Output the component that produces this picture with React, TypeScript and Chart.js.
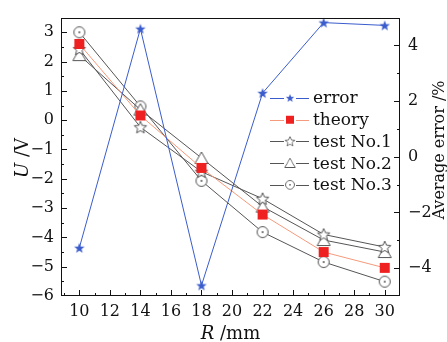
import React, { useEffect, useRef } from 'react';
import { Chart, registerables } from 'chart.js';

Chart.register(...registerables);

// ---- data ----
const R = [10, 14, 18, 22, 26, 30];
const errorPct = [-3.27, 4.6, -4.62, 2.29, 4.82, 4.72];
const theory = [2.6, 0.16, -1.63, -3.22, -4.5, -5.04];
const test1 = [2.43, -0.24, -1.76, -2.68, -3.9, -4.33];
const test2 = [2.22, 0.36, -1.29, -2.95, -4.09, -4.5];
const test3 = [3.0, 0.47, -2.07, -3.82, -4.84, -5.51];
const seriesNames = ['error', 'theory', 'test No.1', 'test No.2', 'test No.3'];
const xTicks = [10, 12, 14, 16, 18, 20, 22, 24, 26, 28, 30];
const yTicks = [-6, -5, -4, -3, -2, -1, 0, 1, 2, 3];
const y2Ticks = [-4, -2, 0, 2, 4];

const FONT = '"DejaVu Serif", "Liberation Serif", serif';
const BLUE = '#3a5ccc';
const GRAY = '#555555';
const RED = '#ee2020';
const SALMON = '#f59a7c';

function makeCanvas(size: number, draw: (ctx: CanvasRenderingContext2D, c: number) => void) {
  const c = document.createElement('canvas');
  c.width = size;
  c.height = size;
  const ctx = c.getContext('2d')!;
  draw(ctx, size / 2);
  return c;
}

function starPath(ctx: CanvasRenderingContext2D, cx: number, cy: number, ro: number, ri: number) {
  ctx.beginPath();
  for (let i = 0; i < 10; i++) {
    const r = i % 2 === 0 ? ro : ri;
    const a = -Math.PI / 2 + (i * Math.PI) / 5;
    const x = cx + r * Math.cos(a);
    const y = cy + r * Math.sin(a);
    if (i === 0) ctx.moveTo(x, y);
    else ctx.lineTo(x, y);
  }
  ctx.closePath();
}

function buildMarkers() {
  const blueStar = makeCanvas(14, (ctx, c) => {
    starPath(ctx, c, c + 0.5, 5.5, 2.3);
    ctx.fillStyle = BLUE;
    ctx.fill();
  });
  const grayStar = makeCanvas(16, (ctx, c) => {
    starPath(ctx, c, c + 0.5, 6.5, 2.9);
    ctx.fillStyle = '#fff';
    ctx.fill();
    ctx.strokeStyle = GRAY;
    ctx.lineWidth = 1;
    ctx.stroke();
  });
  const square = makeCanvas(12, (ctx) => {
    ctx.fillStyle = RED;
    ctx.fillRect(1, 1, 10, 10);
  });
  const triangle = makeCanvas(16, (ctx, c) => {
    ctx.beginPath();
    ctx.moveTo(c, 2);
    ctx.lineTo(c + 6.5, 13.5);
    ctx.lineTo(c - 6.5, 13.5);
    ctx.closePath();
    ctx.fillStyle = '#fff';
    ctx.fill();
    ctx.strokeStyle = GRAY;
    ctx.lineWidth = 1;
    ctx.stroke();
  });
  const circle = makeCanvas(16, (ctx, c) => {
    ctx.beginPath();
    ctx.arc(c, c, 5.5, 0, Math.PI * 2);
    ctx.fillStyle = '#fff';
    ctx.fill();
    ctx.strokeStyle = GRAY;
    ctx.lineWidth = 1;
    ctx.stroke();
    ctx.beginPath();
    ctx.arc(c, c, 1, 0, Math.PI * 2);
    ctx.fillStyle = GRAY;
    ctx.fill();
  });
  return { blueStar, grayStar, square, triangle, circle };
}

const minus = (v: number) => String(v).replace('-', '\u2212');

export default function App() {
  const ref = useRef<HTMLCanvasElement | null>(null);

  useEffect(() => {
    const m = buildMarkers();
    const markers = [m.blueStar, m.square, m.grayStar, m.triangle, m.circle];
    const lineColors = [BLUE, SALMON, GRAY, GRAY, GRAY];
    const pts = (ys: number[]) => R.map((x, i) => ({ x, y: ys[i] }));
    const mk = (label: string, ys: number[], idx: number, axis: string) => ({
      label,
      data: pts(ys),
      yAxisID: axis,
      borderColor: lineColors[idx],
      borderWidth: 1,
      pointStyle: markers[idx] as any,
      pointRadius: 6,
      tension: 0,
      fill: false,
    });

    const decor = {
      id: 'decor',
      afterDatasetsDraw(chart: any) {
        const ctx = chart.ctx as CanvasRenderingContext2D;
        const a = chart.chartArea;
        const sx = chart.scales.x;
        const sy = chart.scales.y;
        const sy2 = chart.scales.y2;
        ctx.save();
        ctx.strokeStyle = '#111';
        ctx.lineWidth = 1;
        ctx.strokeRect(Math.round(a.left) + 0.5, Math.round(a.top) + 0.5, Math.round(a.right - a.left) - 1, Math.round(a.bottom - a.top) - 1);
        ctx.beginPath();
        // x ticks
        for (let v = 9; v <= 31; v++) {
          const px = Math.round(sx.getPixelForValue(v)) + 0.5;
          if (px <= a.left + 1 || px >= a.right - 1) continue;
          const len = v % 2 === 0 ? 6 : 3;
          ctx.moveTo(px, a.bottom);
          ctx.lineTo(px, a.bottom - len);
        }
        // left y ticks
        for (let v = -6; v <= 3.5; v += 0.5) {
          const py = Math.round(sy.getPixelForValue(v)) + 0.5;
          if (py <= a.top + 1 || py >= a.bottom - 1) continue;
          const len = Number.isInteger(v) ? 6 : 3;
          ctx.moveTo(a.left, py);
          ctx.lineTo(a.left + len, py);
        }
        // right y ticks
        for (let v = -5; v <= 5; v += 1) {
          const py = Math.round(sy2.getPixelForValue(v)) + 0.5;
          if (py <= a.top + 1 || py >= a.bottom - 1) continue;
          const len = v % 2 === 0 ? 6 : 3;
          ctx.moveTo(a.right, py);
          ctx.lineTo(a.right - len, py);
        }
        ctx.stroke();
        ctx.restore();
      },
      afterDraw(chart: any) {
        const ctx = chart.ctx as CanvasRenderingContext2D;
        const a = chart.chartArea;
        ctx.save();
        ctx.fillStyle = '#111';
        // legend
        const lx0 = 270, lx1 = 309, mx = 290, tx = 313;
        ctx.font = '17px ' + FONT;
        ctx.textBaseline = 'middle';
        ctx.textAlign = 'left';
        seriesNames.forEach((name, i) => {
          const y = 98 + i * 21.7;
          ctx.strokeStyle = lineColors[i];
          ctx.lineWidth = 1;
          ctx.beginPath();
          ctx.moveTo(lx0, Math.round(y) + 0.5);
          ctx.lineTo(mx - 6, Math.round(y) + 0.5);
          ctx.moveTo(mx + 6, Math.round(y) + 0.5);
          ctx.lineTo(lx1, Math.round(y) + 0.5);
          ctx.stroke();
          const img = markers[i];
          const s = i === 0 || i === 1 ? 0.8 : 0.8;
          const w = img.width * s, h = img.height * s;
          ctx.drawImage(img, mx - w / 2, y - h / 2, w, h);
          ctx.fillStyle = '#111';
          ctx.fillText(name, tx, y + 1);
        });
        // x title
        ctx.font = '18px ' + FONT;
        ctx.textBaseline = 'alphabetic';
        const cx = (a.left + a.right) / 2;
        const italic = 'italic 18px ' + FONT;
        const normal = '18px ' + FONT;
        ctx.font = italic;
        const wR = ctx.measureText('R').width;
        ctx.font = normal;
        const wRest = ctx.measureText(' /mm').width;
        let x0 = cx - (wR + wRest) / 2;
        ctx.font = italic;
        ctx.fillText('R', x0, 339);
        ctx.font = normal;
        ctx.fillText(' /mm', x0 + wR, 339);
        // left title
        ctx.save();
        ctx.translate(28, 158);
        ctx.rotate(-Math.PI / 2);
        ctx.font = italic;
        const wU = ctx.measureText('U').width;
        ctx.font = normal;
        const wV = ctx.measureText(' /V').width;
        x0 = -(wU + wV) / 2;
        ctx.font = italic;
        ctx.fillText('U', x0, 0);
        ctx.font = normal;
        ctx.fillText(' /V', x0 + wU, 0);
        ctx.restore();
        // right title
        ctx.save();
        ctx.translate(444, 150);
        ctx.rotate(-Math.PI / 2);
        ctx.font = '16px ' + FONT;
        ctx.textAlign = 'center';
        ctx.fillText('Average error /%', 0, 0);
        ctx.restore();
        ctx.restore();
      },
    };

    const tickFont = { family: FONT, size: 16 };
    const chart = new Chart(ref.current!, {
      type: 'line',
      data: {
        datasets: [
          mk(seriesNames[0], errorPct, 0, 'y2'),
          mk(seriesNames[1], theory, 1, 'y'),
          mk(seriesNames[2], test1, 2, 'y'),
          mk(seriesNames[3], test2, 3, 'y'),
          mk(seriesNames[4], test3, 4, 'y'),
        ] as any,
      },
      options: {
        responsive: false,
        animation: false,
        layout: { padding: { top: 15, left: 0, right: 0, bottom: 0 } },
        plugins: { legend: { display: false }, tooltip: { enabled: false } },
        scales: {
          x: {
            type: 'linear',
            min: 8.8,
            max: 31,
            grid: { display: false, drawTicks: false },
            border: { display: false },
            ticks: { font: tickFont, color: '#111', padding: 6, autoSkip: false, maxRotation: 0, callback: (v: any) => minus(v) },
            afterBuildTicks: (s: any) => { s.ticks = xTicks.map((v) => ({ value: v })); },
            afterFit: (s: any) => { s.height = 46; },
          },
          y: {
            type: 'linear',
            position: 'left',
            min: -6,
            max: 3.5,
            grid: { display: false, drawTicks: false },
            border: { display: false },
            ticks: { font: tickFont, color: '#111', padding: 7, autoSkip: false, callback: (v: any) => minus(v) },
            afterBuildTicks: (s: any) => { s.ticks = yTicks.map((v) => ({ value: v })); },
            afterFit: (s: any) => { s.width = 61; },
          },
          y2: {
            type: 'linear',
            position: 'right',
            min: -5,
            max: 5,
            grid: { display: false, drawTicks: false },
            border: { display: false },
            ticks: { font: tickFont, color: '#111', padding: 8, autoSkip: false, callback: (v: any) => minus(v) },
            afterBuildTicks: (s: any) => { s.ticks = y2Ticks.map((v) => ({ value: v })); },
            afterFit: (s: any) => { s.width = 47; },
          },
        },
      } as any,
      plugins: [decor],
    });
    return () => chart.destroy();
  }, []);

  return (
    <div style={{ position: 'fixed', left: 0, top: 0, width: 447, height: 342, background: '#fff' }}>
      <canvas ref={ref} width={447} height={342} style={{ display: 'block', width: 447, height: 342 }} />
    </div>
  );
}
